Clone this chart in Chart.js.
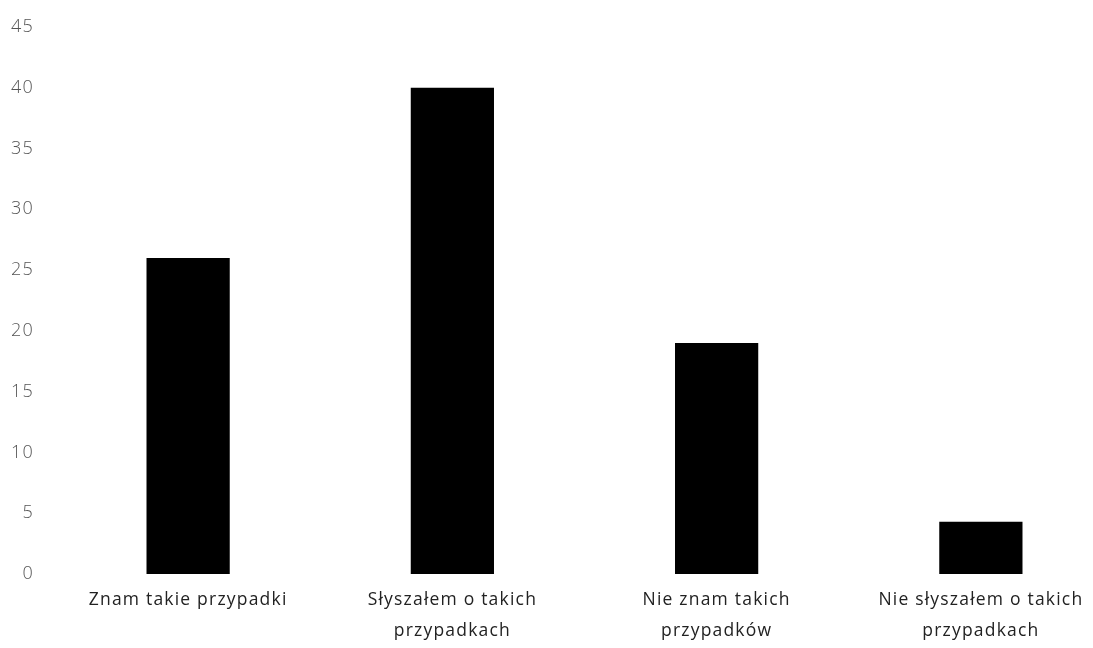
<!DOCTYPE html>
<html>
<head>
<meta charset="utf-8">
<script src="https://cdn.jsdelivr.net/npm/chart.js"></script>
<style>
html,body{margin:0;padding:0;background:#fff;overflow:hidden;width:1093px;height:648px;}
#wrap{position:absolute;left:0;top:0;width:1120px;height:648px;}
</style>
</head>
<body>
<div id="wrap"><canvas id="c"></canvas></div>
<script>
const categories = [
  ["Znam takie przypadki"],
  ["Słyszałem o takich", "przypadkach"],
  ["Nie znam takich", "przypadków"],
  ["Nie słyszałem o takich", "przypadkach"]
];
const values = [26, 40, 19, 4.3];
const yMin = 0, yMax = 45, yStep = 5;

const spacing = {
  id: 'spacing',
  beforeUpdate(chart) { chart.ctx.letterSpacing = '1.2px'; },
  beforeDraw(chart) { chart.ctx.letterSpacing = '1.2px'; }
};

new Chart(document.getElementById('c'), {
  type: 'bar',
  plugins: [spacing],
  data: {
    labels: categories,
    datasets: [{
      data: values,
      backgroundColor: '#000000',
      borderWidth: 0,
      categoryPercentage: 1,
      barPercentage: 0.315
    }]
  },
  options: {
    responsive: true,
    maintainAspectRatio: false,
    animation: false,
    layout: { padding: { top: 27, right: 7, left: 0, bottom: 0 } },
    plugins: { legend: { display: false }, tooltip: { enabled: false } },
    scales: {
      x: {
        grid: { display: false },
        border: { display: false },
        afterFit: (s) => { s.height = 74; },
        ticks: {
          color: '#222',
          font: { family: 'Open Sans', size: 17.5, lineHeight: 1.75 },
          maxRotation: 0,
          autoSkip: false,
          padding: 3
        }
      },
      y: {
        min: yMin, max: yMax,
        grid: { display: false },
        border: { display: false },
        afterFit: (s) => { s.width = 56; },
        ticks: {
          stepSize: yStep,
          color: '#555',
          font: { family: 'Open Sans', size: 18, weight: '300' },
          padding: 14
        }
      }
    }
  }
});
</script>
</body>
</html>
